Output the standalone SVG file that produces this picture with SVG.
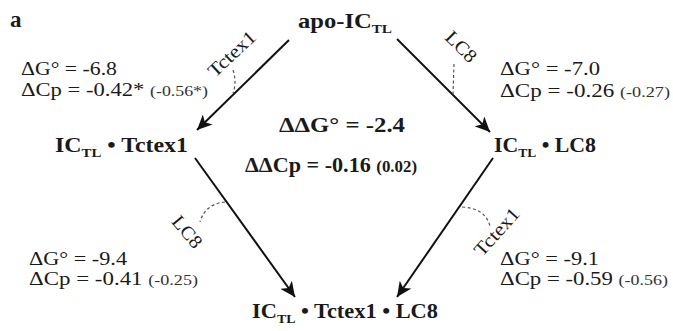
<svg xmlns="http://www.w3.org/2000/svg" width="673" height="331" viewBox="0 0 673 331">
<style>
text{font-family:"Liberation Serif","Times New Roman",serif;fill:#1a1a1a}
.node{font-weight:bold;font-size:21px}
.sub{font-size:13px}
.lab{font-size:19px}
.sm{font-size:15px;fill:#333}
.ctr{font-weight:bold;font-size:21px}
.ctrsm{font-weight:bold;font-size:16px}
.edge{stroke:#111;stroke-width:2;fill:none;marker-end:url(#ah)}
.dash{stroke:#555;stroke-width:1.2;fill:none;stroke-dasharray:3 2.5}
.rot{font-size:19px;text-anchor:middle}
</style>
<defs>
<marker id="ah" markerWidth="16" markerHeight="14" refX="15" refY="7" orient="auto" markerUnits="userSpaceOnUse">
<path d="M15,7 L0,0 L4,7 L0,14 Z" fill="#111"/>
</marker>
</defs>
<text x="10" y="27" style="font-weight:bold;font-size:23px">a</text>
<g id="apo"><text class="node" x="298" y="28" textLength="94" lengthAdjust="spacingAndGlyphs">apo-IC<tspan class="sub" dy="5">TL</tspan></text></g>
<g id="ictctex"><text class="node" x="55" y="152" textLength="133" lengthAdjust="spacingAndGlyphs">IC<tspan class="sub" dy="5">TL</tspan><tspan dy="-5"> • Tctex1</tspan></text></g>
<g id="iclc8"><text class="node" x="494" y="152" textLength="102" lengthAdjust="spacingAndGlyphs">IC<tspan class="sub" dy="5">TL</tspan><tspan dy="-5"> • LC8</tspan></text></g>
<g id="icboth"><text class="node" x="252" y="318" textLength="186" lengthAdjust="spacingAndGlyphs">IC<tspan class="sub" dy="5">TL</tspan><tspan dy="-5"> • Tctex1 • LC8</tspan></text></g>
<g id="connectors">
<line class="edge" x1="289" y1="40" x2="197" y2="130"/>
<line class="edge" x1="397" y1="39" x2="490" y2="132"/>
<line class="edge" x1="195" y1="158" x2="295" y2="297"/>
<line class="edge" x1="493" y1="158" x2="397" y2="297"/>
<path class="dash" d="M233,70 Q237,82 233,93"/>
<path class="dash" d="M454,64 L453,95"/>
<path class="dash" d="M225,202 Q205,204 200,222"/>
<path class="dash" d="M462,207 Q485,208 490,226"/>
<text class="rot" transform="translate(232,54) rotate(-43)" y="6" textLength="58" lengthAdjust="spacingAndGlyphs">Tctex1</text>
<text class="rot" transform="translate(461,47) rotate(45)" y="6" textLength="36" lengthAdjust="spacingAndGlyphs">LC8</text>
<text class="rot" transform="translate(187,232) rotate(50)" y="6" textLength="36" lengthAdjust="spacingAndGlyphs">LC8</text>
<text class="rot" transform="translate(497,232) rotate(-48)" y="6" textLength="58" lengthAdjust="spacingAndGlyphs">Tctex1</text>
</g>
<g id="labels">
<text class="lab" x="21" y="75" textLength="96" lengthAdjust="spacingAndGlyphs">ΔG° = -6.8</text>
<text class="lab" x="21" y="96" textLength="187" lengthAdjust="spacingAndGlyphs">ΔCp = -0.42* <tspan class="sm">(-0.56*)</tspan></text>
<text class="lab" x="500" y="75" textLength="100" lengthAdjust="spacingAndGlyphs">ΔG° = -7.0</text>
<text class="lab" x="500" y="97" textLength="170" lengthAdjust="spacingAndGlyphs">ΔCp = -0.26 <tspan class="sm">(-0.27)</tspan></text>
<text class="lab" x="29" y="265" textLength="98" lengthAdjust="spacingAndGlyphs">ΔG° = -9.4</text>
<text class="lab" x="29" y="285" textLength="169" lengthAdjust="spacingAndGlyphs">ΔCp = -0.41 <tspan class="sm">(-0.25)</tspan></text>
<text class="lab" x="500" y="265" textLength="99" lengthAdjust="spacingAndGlyphs">ΔG° = -9.1</text>
<text class="lab" x="500" y="285" textLength="168" lengthAdjust="spacingAndGlyphs">ΔCp = -0.59 <tspan class="sm">(-0.56)</tspan></text>
<text class="ctr" x="279" y="132" textLength="126" lengthAdjust="spacingAndGlyphs">ΔΔG° = -2.4</text>
<text class="ctr" x="245" y="172" textLength="172" lengthAdjust="spacingAndGlyphs">ΔΔCp = -0.16 <tspan class="ctrsm">(0.02)</tspan></text>
</g>
</svg>
